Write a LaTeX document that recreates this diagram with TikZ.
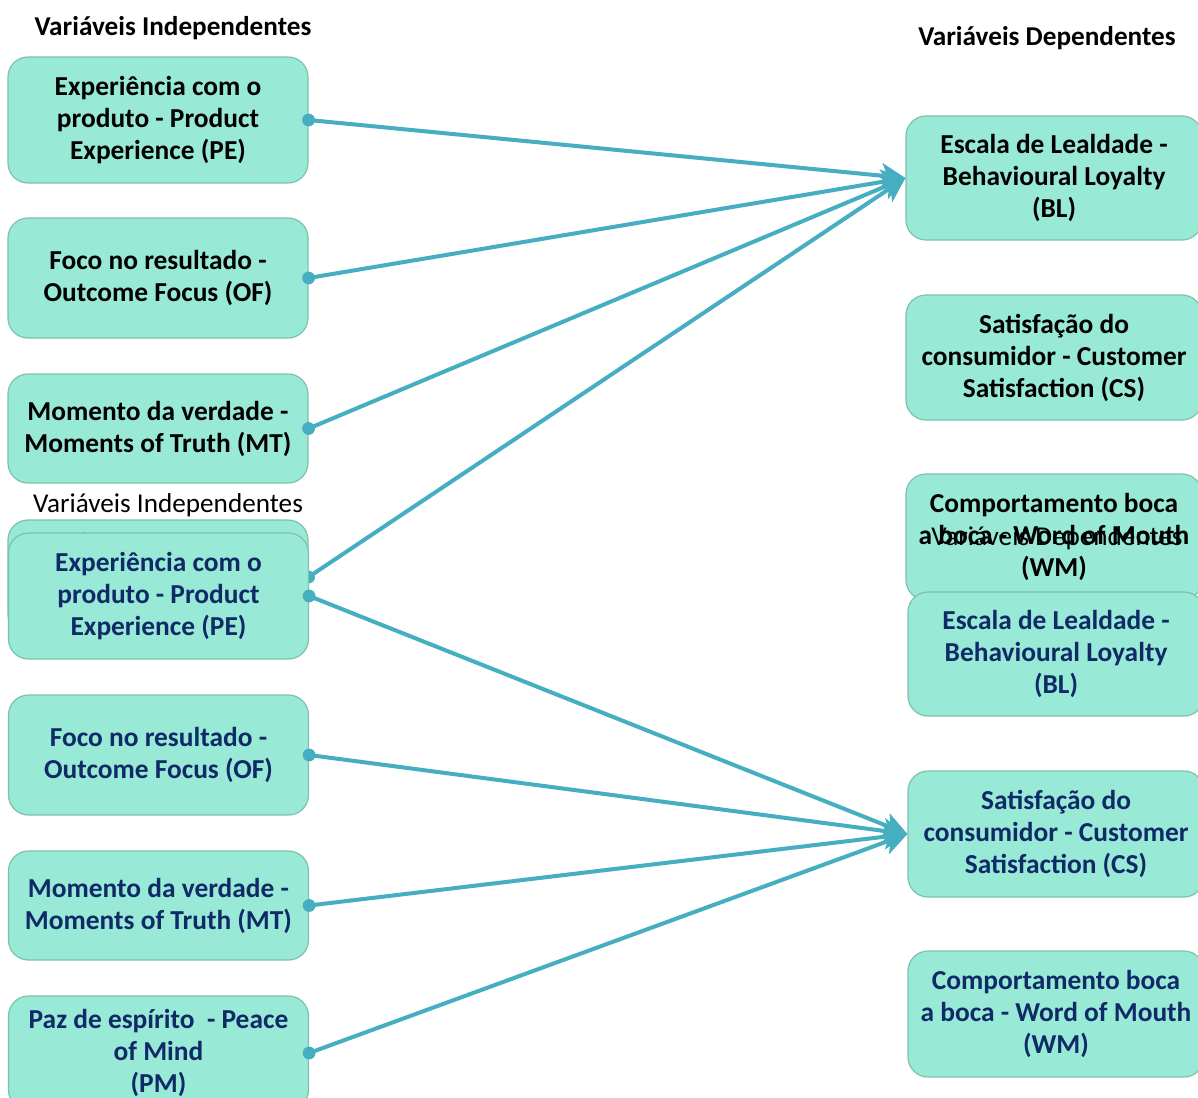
\documentclass[tikz,border=0pt]{standalone}
\usepackage{fontspec}
\setmainfont{Carlito}
\usetikzlibrary{arrows.meta}
\definecolor{boxfill}{HTML}{98E9D6}
\definecolor{boxline}{HTML}{7CC2AE}
\definecolor{linkc}{HTML}{45AEC0}
\definecolor{navy}{HTML}{0F2A66}
\tikzset{
  var/.style={draw=boxline, line width=0.6pt, fill=boxfill, rounded corners=10pt,
    align=center, inner sep=0pt, font=\fontsize{13.7}{16}\selectfont\bfseries},
  lbox/.style={var, minimum width=150pt},
  rbox/.style={var, minimum width=148pt},
  link/.style={draw=linkc, line width=2pt, -{Stealth[length=12pt,width=12.5pt,inset=3pt]}},
  hdrbold/.style={font=\fontsize{13.6}{15}\selectfont\bfseries, inner sep=0pt},
  hdr/.style={font=\fontsize{13.6}{15}\selectfont, inner sep=0pt},
}
\begin{document}
\begin{tikzpicture}[x=0.5pt,y=-0.5pt]
\clip (0,0) rectangle (1198,1097);
\fill[white] (0,0) rectangle (1198,1097);

% ---------- first layout: all antecedents linked to loyalty ----------
\node[hdrbold] (tih) at (173,28) {Variáveis Independentes};
\node[hdrbold] (tdh) at (1047,38) {Variáveis Dependentes};

\node[lbox, minimum height=63pt] (tpe) at (158,120) {Experiência com o\\produto - Product\\Experience (PE)};
\node[lbox, minimum height=60pt] (tof) at (158,278) {Foco no resultado -\\Outcome Focus (OF)};
\node[lbox, minimum height=54.5pt] (tmt) at (158,428.5) {Momento da verdade -\\Moments of Truth (MT)};
\node[lbox, minimum height=57pt] (tpm) at (158,577) {Paz de espírito\ \ - Peace\\of Mind\\(PM)};

\node[rbox, minimum height=62pt] (tbl) at (1054,178) {Escala de Lealdade -\\Behavioural Loyalty\\(BL)};
\node[rbox, minimum height=62.5pt] (tcs) at (1054,357.5) {Satisfação do\\consumidor - Customer\\Satisfaction (CS)};
\node[rbox, minimum height=63pt] (twm) at (1054,537) {Comportamento boca\\a boca - Word of Mouth\\(WM)};

\foreach \s in {tpe,tof,tmt,tpm}{
  \draw[link] (\s.east) -- (tbl.west);
  \fill[linkc] (\s.east) circle (3.2pt);
}

% ---------- second layout: all antecedents linked to satisfaction ----------
\begin{scope}[every node/.append style={text=navy}]
\node[hdr, text=black] (bih) at (168,505) {Variáveis Independentes};

\node[lbox, minimum height=63pt] (bpe) at (158.5,596) {Experiência com o\\produto - Product\\Experience (PE)};
\node[lbox, minimum height=60pt] (bof) at (158.5,755) {Foco no resultado -\\Outcome Focus (OF)};
\node[lbox, minimum height=54.5pt] (bmt) at (158.5,905.5) {Momento da verdade -\\Moments of Truth (MT)};
\node[lbox, minimum height=57pt] (bpm) at (158.5,1053) {Paz de espírito\ \ - Peace\\of Mind\\(PM)};

\node[hdr, text=black] (bdh) at (1057,538) {Variáveis Dependentes};

\node[rbox, minimum height=62pt] (bbl) at (1056,654) {Escala de Lealdade -\\Behavioural Loyalty\\(BL)};
\node[rbox, minimum height=63pt] (bcs) at (1056,834) {Satisfação do\\consumidor - Customer\\Satisfaction (CS)};
\node[rbox, minimum height=63pt] (bwm) at (1056,1014) {Comportamento boca\\a boca - Word of Mouth\\(WM)};
\end{scope}

\foreach \s in {bpe,bof,bmt,bpm}{
  \draw[link] (\s.east) -- (bcs.west);
  \fill[linkc] (\s.east) circle (3.2pt);
}
\end{tikzpicture}
\end{document}
